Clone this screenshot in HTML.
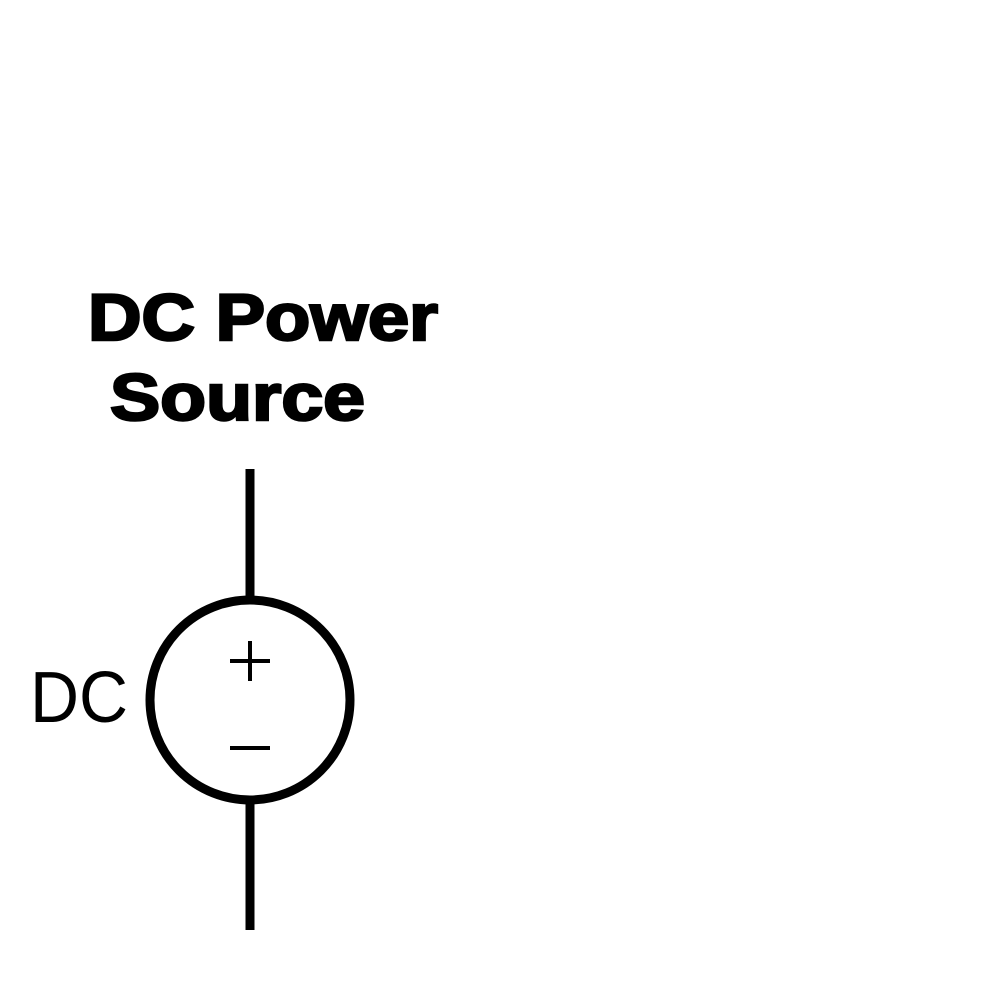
<!DOCTYPE html>
<html>
<head>
<meta charset="utf-8">
<style>
html,body{margin:0;padding:0;background:#fff;}
svg{display:block;}
</style>
</head>
<body>
<svg width="1000" height="1000" viewBox="0 0 1000 1000">
  <rect x="0" y="0" width="1000" height="1000" fill="#fff"/>
  <text x="88" y="340" textLength="350" lengthAdjust="spacingAndGlyphs" font-family="Liberation Sans, sans-serif" font-weight="bold" font-size="66" stroke="#000" stroke-width="2.5" fill="#000">DC Power</text>
  <text x="110" y="420" textLength="255" lengthAdjust="spacingAndGlyphs" font-family="Liberation Sans, sans-serif" font-weight="bold" font-size="66" stroke="#000" stroke-width="2.5" fill="#000">Source</text>
  <line x1="250" y1="469" x2="250" y2="600" stroke="#000" stroke-width="9"/>
  <circle cx="250" cy="700" r="100" fill="none" stroke="#000" stroke-width="9"/>
  <line x1="250" y1="800" x2="250" y2="930" stroke="#000" stroke-width="9"/>
  <g>
    <line x1="230" y1="661" x2="270" y2="661" stroke="#000" stroke-width="4"/>
    <line x1="250" y1="641" x2="250" y2="681" stroke="#000" stroke-width="4"/>
  </g>
  <line x1="230" y1="748" x2="270" y2="748" stroke="#000" stroke-width="4"/>
  <text x="30" y="722" textLength="98" lengthAdjust="spacingAndGlyphs" font-family="Liberation Sans, sans-serif" font-size="72" fill="#000">DC</text>
</svg>
</body>
</html>
